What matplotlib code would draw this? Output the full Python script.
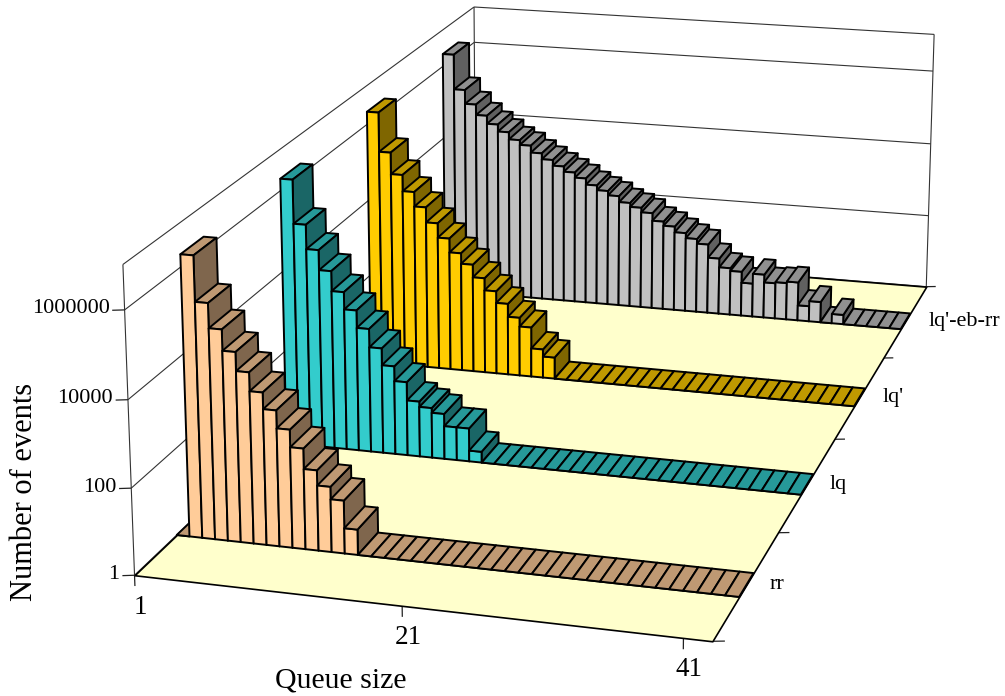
# -*- coding: utf-8 -*-
"""3D bars of queue size events per scheme, with a camera fitted to the picture."""

import matplotlib

matplotlib.use("Agg")
import matplotlib.pyplot as plt
import numpy as np
from mpl_toolkits.mplot3d.art3d import Line3DCollection, Poly3DCollection

plt.rcParams["font.family"] = ["Liberation Serif", "DejaVu Serif"]

# --- Data ---
series_names = ["rr", "lq", "lq'", "lq'-eb-rr"]
n_cells = 42

rr_events = [1, 3.4e6, 3e5, 8e4, 2.6e4, 9500, 3500, 1450, 560, 220, 74, 33, 17, 3.9] + [1] * 28
lq_events = [1, 3.4e6, 2.9e5, 7.4e4, 2.4e4, 7800, 2950, 1100, 390, 150, 65, 23, 17, 13, 6.5, 6.5, 1.85] + [1] * 25
lqp_events = [1, 3.7e6, 3.6e5, 1e5, 3.8e4, 1.6e4, 6500, 2750, 1200, 640, 300, 145, 72, 33, 19.5, 5.5, 3.6] + [1] * 25
lqpebrr_events = [1, 3.8e6, 4.3e5, 1.8e5, 9.3e4, 5.6e4, 3.6e4, 2.3e4, 1.7e4, 1.1e4, 7600, 5300,
                  3800, 2750, 1860, 1380, 1050, 720, 560, 420, 260, 200, 140, 102, 76, 33, 19,
                  16, 8.1, 15, 9.3, 10, 11, 2.6, 3.6, 1, 1.8] + [1] * 5

z_ticks = [0, 2, 4, 6]
z_tick_labels = ["1", "100", "10000", "1000000"]
z_top = 7
x_ticks = [0, 20, 40]
x_tick_labels = ["1", "21", "41"]

front_colors = ["#FFCC99", "#33CCCC", "#FFCC00", "#C0C0C0"]
top_colors = ["#BF9973", "#269999", "#BF9900", "#909090"]
side_colors = ["#7F664D", "#1A6666", "#7F6600", "#606060"]
floor_color = "#FFFFCC"

# --- Camera: least squares fit of world (cell, row, decade) to picture pixels ---
world_marks = [(0, 0, 0), (42, 0, 0), (42, 1, 0), (42, 2, 0), (42, 3, 0), (42, 4, 0), (0, 4, 0),
               (0, 0, 2), (0, 0, 4), (0, 0, 6), (0, 0, 7), (0, 4, 6), (0, 4, 7), (42, 4, 6),
               (42, 4, 7), (20, 0, 0), (40, 0, 0)]
pixel_marks = [(135, 574), (712, 642), (778, 533), (835, 440), (882, 358), (927, 282), (475, 254),
               (131, 487), (128, 400), (125, 309), (122, 265), (475, 40), (474, 7), (933, 72),
               (934, 36), (403, 606), (683, 639)]

WIDTH, HEIGHT = 1005, 696


def fit_camera(world, pixels):
    rows = []
    for (x, y, z), (u, v) in zip(world, pixels):
        u, v = u / 1000, v / 1000
        rows.append([x, y, z, 1, 0, 0, 0, 0, -u * x, -u * y, -u * z, -u])
        rows.append([0, 0, 0, 0, x, y, z, 1, -v * x, -v * y, -v * z, -v])
    _, _, vt = np.linalg.svd(np.array(rows, dtype=float))
    cam = vt[-1].reshape(3, 4)
    return np.diag([1000.0, 1000.0, 1.0]) @ cam


fig = plt.figure(figsize=(WIDTH / 100, HEIGHT / 100), dpi=100)
# square axes (mplot3d wants one), wider than the figure is tall
ax = fig.add_axes([0, -(WIDTH - HEIGHT) / 2 / HEIGHT, 1, WIDTH / HEIGHT], projection="3d",
                  computed_zorder=False)
ax.set_axis_off()

cam = fit_camera(world_marks, pixel_marks)
x0, x1 = ax.viewLim.x0, ax.viewLim.x1
y0, y1 = ax.viewLim.y0, ax.viewLim.y1
sx = (x1 - x0) / WIDTH
sy = (y1 - y0) / WIDTH
bottom_px = HEIGHT + (WIDTH - HEIGHT) / 2  # picture row of the axes bottom
to_view = np.array([[sx, 0, x0], [0, -sy, y0 + bottom_px * sy], [0, 0, 1]])
view_cam = to_view @ cam
centre = np.linalg.svd(cam)[2][-1]
proj = np.vstack([view_cam[0], view_cam[1], centre, view_cam[2]])
ax.get_proj = lambda: proj


def label_at(x, y, z, dx, dy, text, **kwargs):
    """Text at a world point, shifted by some pixels."""
    u, v, w = cam @ np.array([x, y, z, 1.0])
    fig.text((u / w + dx) / WIDTH, 1 - (v / w + dy) / HEIGHT, text, va="center", **kwargs)


# --- Walls and floor ---
wall_lines = []
for z in z_ticks + [z_top]:
    wall_lines.append([(0, 0, z), (0, 4, z)])
    wall_lines.append([(0, 4, z), (42, 4, z)])
for x, y in [(0, 0), (0, 4), (42, 4)]:
    wall_lines.append([(x, y, 0), (x, y, z_top)])
ax.add_collection3d(Line3DCollection(wall_lines, colors="#333333", linewidths=0.8, zorder=1))

floor = Poly3DCollection([[(0, 0, 0), (42, 0, 0), (42, 4, 0), (0, 4, 0)]], facecolors=floor_color,
                         edgecolors="black", linewidths=1.2, zorder=2)
ax.add_collection3d(floor)

# --- Bars, back row first and left to right inside a row ---
all_events = [rr_events, lq_events, lqp_events, lqpebrr_events]
order = 3
row_lo, row_hi = 0.39, 0.61
for row in range(3, -1, -1):
    heights = np.log10(all_events[row])
    y_a, y_b = row + row_lo, row + row_hi
    for cell, h in enumerate(heights):
        a, b = cell, cell + 1
        top = [(a, y_a, h), (b, y_a, h), (b, y_b, h), (a, y_b, h)]
        front = [(a, y_a, 0), (b, y_a, 0), (b, y_a, h), (a, y_a, h)]
        side = [(b, y_a, 0), (b, y_b, 0), (b, y_b, h), (b, y_a, h)]
        bar = Poly3DCollection([side, top, front],
                               facecolors=[side_colors[row], top_colors[row], front_colors[row]],
                               edgecolors="black", linewidths=1.4, zorder=order)
        ax.add_collection3d(bar)
        order += 1

# --- Ticks and labels ---
tick_lines = []
for z, label in zip(z_ticks, z_tick_labels):
    tick_lines.append([(0, 0, z), (-0.8, -0.015, z)])
    label_at(0, 0, z, -15, -1, label, ha="right", fontsize=16)
for x, label in zip(x_ticks, x_tick_labels):
    tick_lines.append([(x, 0, 0), (x, 0, -0.25)])
    label_at(x, 0, 0, 6, 32, label, ha="center", fontsize=19.5)
for row in range(5):
    tick_lines.append([(42, row, 0), (42.8, row + 0.013, 0)])
ax.add_collection3d(Line3DCollection(tick_lines, colors="#222222", linewidths=0.9, zorder=1))
for row, name in enumerate(series_names):
    label_at(42, row + 0.5, 0, 23, 0, name, ha="left", fontsize=16)

fig.text(341 / WIDTH, 1 - 680 / HEIGHT, "Queue size", ha="center", va="center", fontsize=21.5)
fig.text(25 / WIDTH, 1 - 492 / HEIGHT, "Number of events", ha="center", va="center",
         rotation=90, fontsize=22)

fig.savefig("out.png", dpi=100)
